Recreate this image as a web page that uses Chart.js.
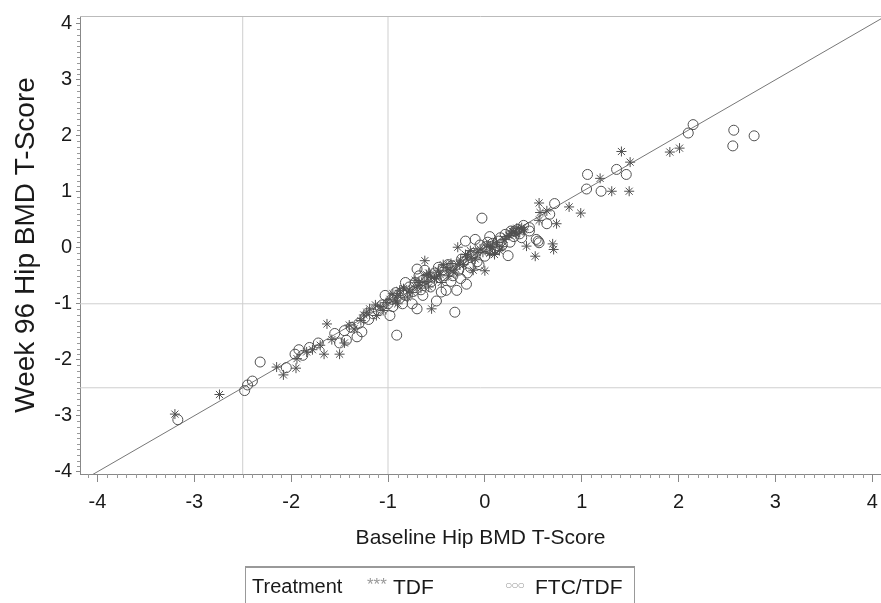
<!DOCTYPE html>
<html>
<head>
<meta charset="UTF-8">
<title>Week 96 vs Baseline Hip BMD T-Score</title>
<script src="https://cdn.jsdelivr.net/npm/chart.js"></script>
<style>
    body { margin: 0; background: #fff; font-family: 'Liberation Sans', Arial, sans-serif; overflow: hidden; }
    .fora { position: relative; width: 881px; height: 603px; overflow: hidden; }
    .wrap { position: absolute; left: 0; top: 0; width: 887px; height: 603px; }
    .legenda { position: absolute; left: 245px; top: 566px; width: 390px; height: 50px;
        border: 1px solid #999; border-top: 2px solid #999; box-sizing: border-box; color: #1a1a1a; font-size: 21px; }
    .legenda span { position: absolute; top: 7px; white-space: nowrap; }
    .mk { color: #999; }
</style>
</head>
<body>
<div class="fora">
    <div class="wrap">
        <canvas id="grafico"></canvas>
    </div>
    <div class="legenda">
        <span style="left: 6px; font-size: 20px;">Treatment</span>
        <span class="mk" style="left: 121px; top: 7px; font-size: 17px; letter-spacing: 0px;">***</span>
        <span style="left: 147px;">TDF</span>
        <span class="mk" style="left: 259px; top: 10px; font-size: 12px; letter-spacing: -1px;">○○○</span>
        <span style="left: 289px;">FTC/TDF</span>
    </div>
</div>
<script>
    // TDF (asterisks)
    const tdfX = [-3.20, -2.74, -2.15, -2.08, -1.95, -1.94, -1.84, -1.78, -1.70, -1.66,
        -1.63, -1.58, -1.50, -1.45, -1.35, -1.28, -1.22, -1.19, -1.12, -1.13,
        -1.08, -1.05, -0.98, -0.95, -0.92, -0.88, -0.84, -0.80, -0.75, -0.72,
        -0.70, -0.66, -0.62, -0.62, -0.60, -0.58, -0.55, -0.52, -0.50, -0.48,
        -0.45, -0.43, -0.40, -0.38, -0.35, -0.32, -0.30, -0.28, -0.25, -0.22,
        -0.20, -0.18, -0.15, -0.12, -0.10, -0.08, -0.05, 0.00, 0.02, 0.05,
        0.08, 0.10, 0.12, 0.15, 0.18, 0.20, 0.25, 0.28, 0.30, 0.32,
        0.33, 0.36, 0.40, 0.43, 0.52, 0.56, 0.57, 0.56, 0.64, 0.70,
        0.71, 0.74, 0.87, 0.99, 1.19, 1.31, 1.41, 1.49, 1.50, 1.91,
        2.01, -1.25, -1.02, -0.90, -0.78, -0.68, -0.56, -0.46, -0.36, -0.26,
        -0.14, -0.02, 0.06, 0.22, 0.27, 0.38, -0.58, -0.90, -1.40];
    const tdfY = [-2.97, -2.62, -2.13, -2.27, -2.15, -1.98, -1.86, -1.82, -1.74, -1.90,
        -1.36, -1.64, -1.90, -1.70, -1.45, -1.30, -1.15, -1.09, -1.21, -1.02,
        -1.05, -1.12, -0.92, -0.82, -0.95, -0.76, -0.73, -0.88, -0.80, -0.58,
        -0.68, -0.72, -0.23, -0.60, -0.48, -0.45, -1.09, -0.55, -0.52, -0.40,
        -0.62, -0.30, -0.35, -0.50, -0.28, -0.45, -0.38, 0.01, -0.22, -0.30,
        -0.12, -0.15, -0.05, -0.40, -0.20, -0.08, -0.02, -0.41, 0.05, -0.10,
        0.00, -0.12, 0.10, -0.05, 0.02, 0.15, 0.22, 0.30, 0.28, 0.25,
        0.35, 0.28, 0.32, 0.03, -0.15, 0.49, 0.63, 0.80, 0.66, 0.07,
        -0.03, 0.43, 0.73, 0.62, 1.24, 1.01, 1.72, 1.01, 1.53, 1.71,
        1.78, -1.20, -0.98, -0.85, -0.75, -0.62, -0.50, -0.48, -0.40, -0.30,
        -0.18, -0.08, 0.02, 0.20, 0.26, 0.36, -0.70, -1.00, -1.38];

    // FTC/TDF (circulos)
    const ftcX = [-3.17, -2.48, -2.45, -2.40, -2.32, -2.05, -1.96, -1.92, -1.88, -1.81,
        -1.72, -1.55, -1.50, -1.43, -1.38, -1.32, -1.30, -1.27, -1.20, -1.15,
        -1.10, -1.03, -1.00, -0.98, -0.95, -0.92, -0.91, -0.88, -0.85, -0.82,
        -0.78, -0.75, -0.72, -0.70, -0.70, -0.66, -0.64, -0.62, -0.60, -0.56,
        -0.55, -0.52, -0.50, -0.48, -0.45, -0.42, -0.40, -0.38, -0.35, -0.33,
        -0.31, -0.29, -0.27, -0.25, -0.22, -0.20, -0.19, -0.18, -0.15, -0.12,
        -0.10, -0.08, -0.06, -0.05, -0.03, 0.00, 0.03, 0.05, 0.06, 0.10,
        0.12, 0.14, 0.18, 0.21, 0.24, 0.26, 0.27, 0.30, 0.34, 0.36,
        0.38, 0.40, 0.46, 0.46, 0.53, 0.55, 0.56, 0.64, 0.67, 0.72,
        1.05, 1.06, 1.20, 1.36, 1.46, 2.10, 2.15, 2.56, 2.57, 2.78,
        -1.24, -1.06, -0.96, -0.86, -0.74, -0.64, -0.54, -0.44, -0.34, -0.24,
        -0.13, 0.01, 0.08, 0.16, 0.31, -0.82, -0.68, -1.45];
    const ftcY = [-3.07, -2.55, -2.45, -2.38, -2.04, -2.14, -1.90, -1.82, -1.92, -1.78,
        -1.70, -1.53, -1.70, -1.65, -1.42, -1.59, -1.35, -1.50, -1.28, -1.18,
        -1.12, -0.85, -1.00, -1.21, -1.05, -0.80, -1.56, -0.90, -1.00, -0.85,
        -0.70, -1.00, -0.62, -0.38, -1.09, -0.75, -0.85, -0.40, -0.55, -0.70,
        -0.60, -0.45, -0.95, -0.35, -0.79, -0.50, -0.76, -0.30, -0.60, -0.50,
        -1.15, -0.76, -0.40, -0.55, -0.25, 0.12, -0.65, -0.45, -0.35, -0.10,
        0.15, -0.25, -0.30, 0.05, 0.53, -0.15, 0.10, 0.20, -0.05, 0.00,
        -0.02, 0.12, 0.05, 0.24, -0.14, 0.10, 0.30, 0.20, 0.33, 0.25,
        0.18, 0.40, 0.36, 0.30, 0.15, 0.12, 0.09, 0.43, 0.60, 0.79,
        1.05, 1.31, 1.01, 1.40, 1.31, 2.05, 2.20, 1.82, 2.10, 2.00,
        -1.25, -1.02, -0.92, -0.80, -0.78, -0.58, -0.52, -0.40, -0.32, -0.20,
        -0.15, 0.02, 0.08, 0.18, 0.30, -0.62, -0.50, -1.48];

    // eixos e linhas de referencia
    const xMin = -4.18, xMax = 4.09;
    const yMin = -4.04, yMax = 4.14;
    const refX = [-2.5, -1];
    const refY = [-1, -2.5];

    const corTexto = '#1a1a1a';
    const corMarca = '#505050';
    Chart.defaults.font.family = "'Liberation Sans', Arial, sans-serif";

    const pontos = (xs, ys) => xs.map((x, i) => ({ x: x, y: ys[i] }));

    const linhasRef = [];
    refX.forEach(v => linhasRef.push([{ x: v, y: yMin }, { x: v, y: yMax }]));
    refY.forEach(v => linhasRef.push([{ x: xMin, y: v }, { x: xMax, y: v }]));

    const datasets = [
        {
            label: 'TDF',
            data: pontos(tdfX, tdfY),
            pointStyle: 'star',
            pointRadius: 5,
            borderColor: corMarca,
            backgroundColor: 'rgba(0,0,0,0)',
            borderWidth: 1
        },
        {
            label: 'FTC/TDF',
            data: pontos(ftcX, ftcY),
            pointStyle: 'circle',
            pointRadius: 5,
            borderColor: corMarca,
            backgroundColor: 'rgba(0,0,0,0)',
            borderWidth: 1
        },
        {
            label: 'identidade',
            data: [{ x: xMin, y: xMin }, { x: xMax, y: xMax }],
            showLine: true,
            pointRadius: 0,
            borderColor: '#777',
            borderWidth: 1
        }
    ];
    linhasRef.forEach(d => datasets.push({
        label: 'ref',
        data: d,
        showLine: true,
        pointRadius: 0,
        borderColor: '#cfcfcf',
        borderWidth: 1
    }));

    // tracinhos menores a cada 0.1 + borda de cima
    const ticksMenores = {
        id: 'ticksMenores',
        afterDraw(chart) {
            const { ctx, chartArea, scales } = chart;
            ctx.save();
            ctx.strokeStyle = '#999';
            ctx.lineWidth = 1;
            ctx.beginPath();
            for (let i = Math.ceil(xMin * 10); i <= Math.floor(xMax * 10); i++) {
                if (i % 10 === 0) continue;
                const px = Math.round(scales.x.getPixelForValue(i / 10)) + 0.5;
                ctx.moveTo(px, chartArea.bottom);
                ctx.lineTo(px, chartArea.bottom + 4);
            }
            for (let i = Math.ceil(yMin * 10); i <= Math.floor(yMax * 10); i++) {
                if (i % 10 === 0) continue;
                const py = Math.round(scales.y.getPixelForValue(i / 10)) + 0.5;
                ctx.moveTo(chartArea.left, py);
                ctx.lineTo(chartArea.left - 3, py);
            }
            ctx.stroke();
            ctx.strokeStyle = '#bbb';
            ctx.beginPath();
            ctx.moveTo(chartArea.left, chartArea.top + 0.5);
            ctx.lineTo(chartArea.right, chartArea.top + 0.5);
            ctx.stroke();
            ctx.restore();
        }
    };

    new Chart(document.getElementById('grafico'), {
        type: 'scatter',
        data: { datasets: datasets },
        options: {
            responsive: true,
            maintainAspectRatio: false,
            animation: false,
            layout: { padding: { top: 13, right: 0, bottom: 49, left: 0 } },
            plugins: {
                legend: { display: false },
                tooltip: { enabled: false }
            },
            scales: {
                x: {
                    type: 'linear',
                    min: xMin,
                    max: xMax,
                    afterFit: s => { s.height = 80; },
                    border: { color: '#888' },
                    grid: { drawOnChartArea: false, drawTicks: true, tickLength: 8, tickColor: '#888' },
                    ticks: { stepSize: 1, includeBounds: false, color: corTexto, font: { size: 20 }, padding: 8,
                        callback: v => Number.isInteger(v) ? v : '' },
                    title: { display: true, text: 'Baseline Hip BMD T-Score', color: corTexto,
                        font: { size: 21 }, padding: { top: 0, bottom: 3 } }
                },
                y: {
                    type: 'linear',
                    min: yMin,
                    max: yMax,
                    afterFit: s => { s.width = 80; },
                    border: { color: '#888' },
                    grid: { drawOnChartArea: false, drawTicks: true, tickLength: 4, tickColor: '#888' },
                    ticks: { stepSize: 1, includeBounds: false, color: corTexto, font: { size: 20 }, padding: 4,
                        callback: v => Number.isInteger(v) ? v : '' },
                    title: { display: true, text: 'Week 96 Hip BMD T-Score', color: corTexto,
                        font: { size: 28 }, padding: { top: 9, bottom: 0 } }
                }
            }
        },
        plugins: [ticksMenores]
    });
</script>
</body>
</html>
